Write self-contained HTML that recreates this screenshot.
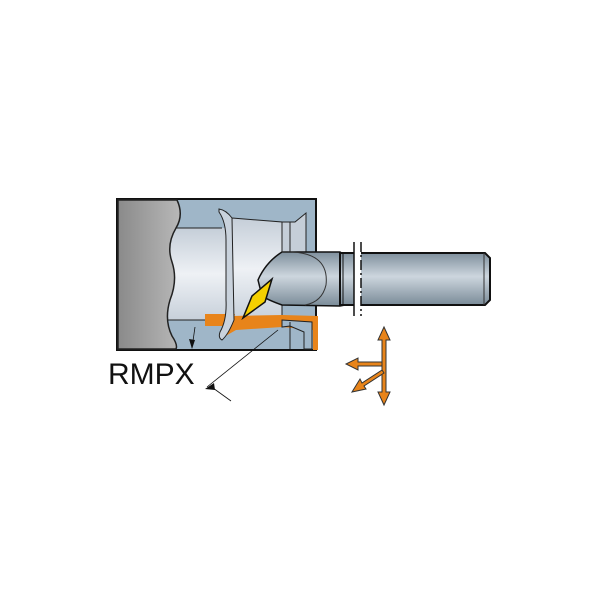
<!DOCTYPE html>
<html><head><style>body{margin:0;background:#fff}svg{display:block}</style></head><body>
<svg width="600" height="600" viewBox="0 0 600 600" xmlns="http://www.w3.org/2000/svg">
<defs>
<linearGradient id="sh" x1="0" y1="0" x2="0" y2="1">
<stop offset="0" stop-color="#7f909d"/><stop offset="0.45" stop-color="#cdd6de"/><stop offset="1" stop-color="#7a8b98"/></linearGradient>
<linearGradient id="bore" x1="0" y1="0" x2="0" y2="1">
<stop offset="0" stop-color="#c5ced8"/><stop offset="0.5" stop-color="#eef1f5"/><stop offset="1" stop-color="#c7d0da"/></linearGradient>
<linearGradient id="gr" x1="0" y1="0" x2="1" y2="0">
<stop offset="0" stop-color="#8a8a8a"/><stop offset="1" stop-color="#b8b8b8"/></linearGradient>
</defs>
<rect x="117" y="199" width="199" height="151" fill="#9fb6c8" stroke="#111" stroke-width="2"/>
<rect x="168" y="228" width="64" height="92" fill="url(#bore)"/>
<line x1="168" y1="228" x2="222" y2="228" stroke="#222"/>
<line x1="168" y1="320" x2="222" y2="320" stroke="#222"/>
<path d="M232 218 L282 222 L282 318 L232 320 Z" fill="url(#bore)" stroke="#222" stroke-width="1"/>
<path d="M282 222 L295 222 L306 213 L306 252 L282 252 Z" fill="#c5ced8" stroke="#222" stroke-width="1"/>
<line x1="290" y1="222" x2="290" y2="252" stroke="#222"/>
<path d="M118 200 L177 200 Q184 215 176 228 Q166 245 172 262 Q178 280 170 300 Q164 320 172 336 Q178 345 176 349 L118 349 Z" fill="url(#gr)" stroke="#222" stroke-width="1.5"/>
<!-- orange -->
<path d="M205 314 L235 314 L232 326 L205 326 Z" fill="#e8841a"/>
<path d="M232 316 L282 315 L318 316 L318 350 L313 350 L313 330 L282 327 L236 330 L222 338 L219 334 L226 322 Z" fill="#e8841a"/>
<path d="M282 320 L312 322 L312 349 L304 349 L304 332 L290 326 L282 327 Z" fill="#9fb6c8" stroke="#222" stroke-width="1"/>
<line x1="290" y1="322" x2="290" y2="349" stroke="#222"/>
<!-- flange -->
<path d="M219 209 Q226 210 232 218 L234 320 Q228 335 222 340 Q218 338 220 332 Q227 320 226 300 L226 240 Q226 222 219 212 Z" fill="#c9d2dc" stroke="#222" stroke-width="1"/>
<!-- neck -->
<path d="M282 252 L340 252 L345 255 L345 305 L340 306 L282 305 Q268 300 262 296 L258 280 Q266 262 282 252 Z" fill="url(#sh)" stroke="#111" stroke-width="1.5"/>
<path d="M282 252 Q330 250 326 285 Q322 302 305 305" fill="none" stroke="#333" stroke-width="1"/>
<path d="M340 253 L485 253 L490 258 L490 300 L485 305 L340 305 Z" fill="url(#sh)" stroke="#111" stroke-width="2"/>
<line x1="343" y1="253" x2="343" y2="305" stroke="#111"/>
<rect x="354" y="242" width="7" height="74" fill="#fff"/>
<line x1="354" y1="242" x2="354" y2="316" stroke="#111" stroke-width="1.5"/>
<line x1="361" y1="242" x2="361" y2="316" stroke="#111" stroke-width="1.5" stroke-dasharray="10 3 2 3"/>
<line x1="484" y1="253" x2="484" y2="305" stroke="#333"/>
<path d="M272 279 L265 302 L243 318 L252 296 Z" fill="#f5d000" stroke="#111" stroke-width="1.5"/>
<line x1="278" y1="330" x2="207" y2="387" stroke="#111" stroke-width="0.8"/>
<path d="M205 389 L214 383 L215 390 Z" fill="#111"/>
<line x1="213" y1="388" x2="231" y2="401" stroke="#111" stroke-width="0.8"/>
<line x1="195" y1="327" x2="192" y2="348" stroke="#111" stroke-width="0.8"/>
<path d="M192 349 L189 339 L195 340 Z" fill="#111"/>
<text x="108" y="384" font-family="Liberation Sans, sans-serif" font-size="30" fill="#111">RMPX</text>
<g fill="#e8841a" stroke="#333" stroke-width="1">
<path d="M382 340 L378 340 L384 327 L390 340 L386 340 L386 392 L390 392 L384 405 L378 392 L382 392 Z"/>
<path d="M382 362 L358 362 L358 358 L346 364 L358 370 L358 366 L382 366 Z"/>
<path d="M382 370 L362 383 L360 379 L352 392 L366 389 L364 386 L384 373 Z"/>
</g>
</svg>
</body></html>
